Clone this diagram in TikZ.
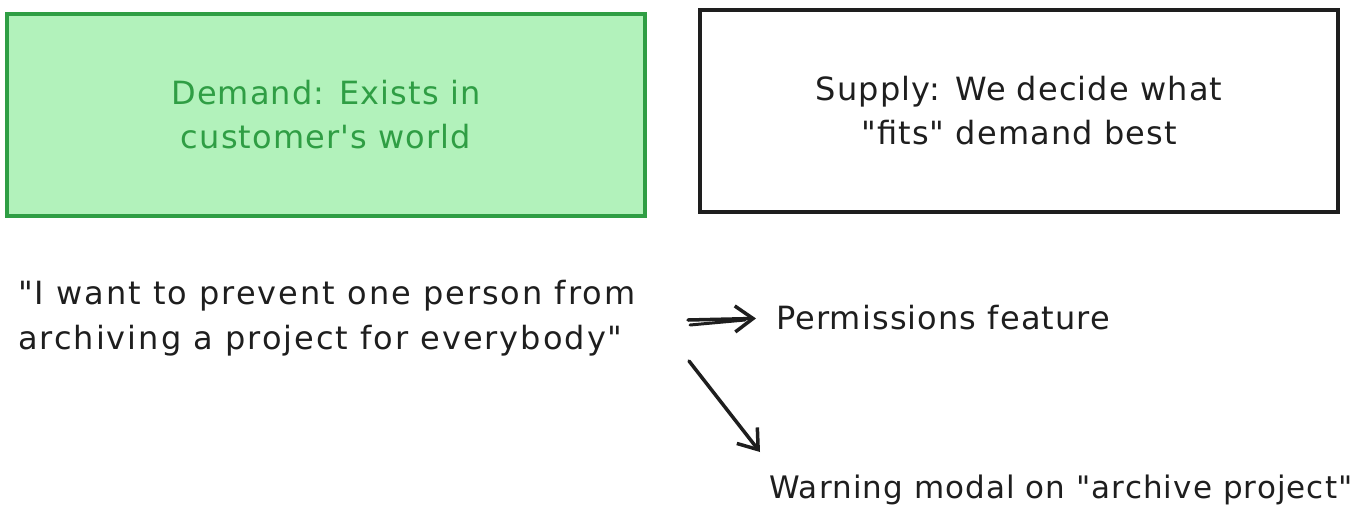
\documentclass[tikz,border=0pt]{standalone}
\usepackage{fontspec}
\setmainfont{DejaVu Sans}[LetterSpace=3.5,Ligatures=TeXOff]
\usetikzlibrary{arrows.meta}
\definecolor{exgreen}{HTML}{2F9E44}
\definecolor{exfill}{HTML}{B2F2BB}
\definecolor{exink}{HTML}{1E1E1E}
\tikzset{
  boxstyle/.style={draw, line width=4pt, minimum width=638pt, minimum height=202pt, align=center, inner sep=0pt},
  txtfont/.style={font=\fontsize{32}{44}\selectfont},
  txt/.style={inner sep=0pt, text=exink, txtfont},
  conn/.style={draw=exink, line width=3.5pt, line cap=round, -{Straight Barb[length=18pt,width=26pt,line width=3.5pt]}}
}
\begin{document}
\begin{tikzpicture}[x=1pt,y=-1pt]
\useasboundingbox (0,0) rectangle (1369,520);
\node[boxstyle, draw=exgreen, fill=exfill, text=exgreen, txtfont] (demand) at (326,115) {Demand: Exists in\\customer's world};
\node[boxstyle, draw=exink, fill=white, text=exink, txtfont] (supply) at (1019,110.5) {Supply: We decide what\\"fits" demand best};
\node[txt, anchor=west, align=left, font=\fontsize{32}{45}\selectfont\addfontfeature{LetterSpace=6.2}] (quote) at (18,318) {"I want to prevent one person from\\archiving a project for everybody"};
\node[txt, anchor=west] (perm) at (776,318) {Permissions feature};
\node[txt, anchor=west, font=\fontsize{31}{44}\selectfont] (warn) at (769,490) {Warning modal on "archive project"};
\coordinate (a1) at (688,320);
\coordinate (a1b) at (690,325);
\coordinate (a1be) at (745,320);
\coordinate (a2) at (689,361);
\coordinate (a2e) at (760,452);
\draw[conn, shorten >=20pt] (a1) -- (perm.west);
\draw[draw=exink, line width=3pt, line cap=round] (a1b) -- (a1be);
\draw[conn] (a2) -- (a2e);
\end{tikzpicture}
\end{document}
